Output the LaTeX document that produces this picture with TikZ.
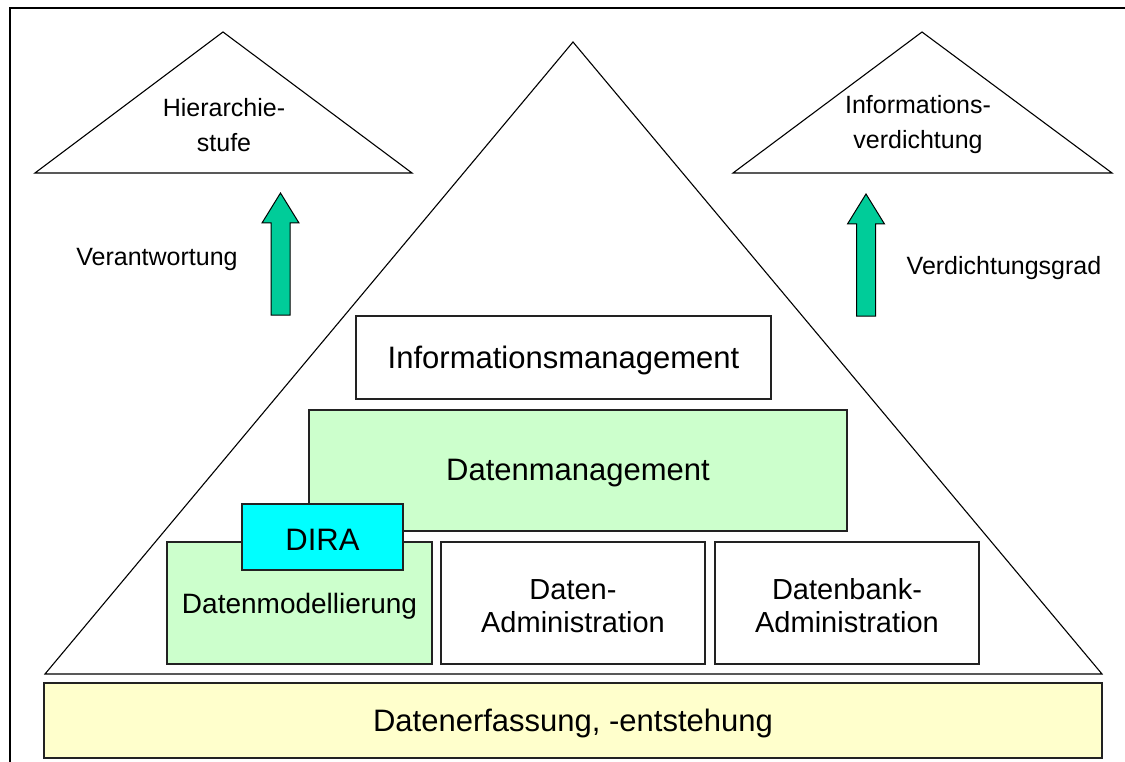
\documentclass[tikz,border=0pt]{standalone}
\usepackage{fontspec}
\setmainfont{Liberation Sans}
\usetikzlibrary{calc}
\definecolor{paleGreen}{HTML}{CCFFCC}
\definecolor{paleYellow}{HTML}{FFFFCC}
\definecolor{dirCyan}{HTML}{00FFFF}
\definecolor{arrowGreen}{HTML}{00CC99}
\definecolor{edgeGray}{HTML}{222222}
\begin{document}
\begin{tikzpicture}[x=1pt,y=-1pt,
  box/.style={draw=edgeGray,line width=1.3pt,rectangle,inner sep=0pt},
  boxtext/.style 2 args={label={[align=center,yshift=-3pt,#1]center:#2}},
  bigtext/.style={font=\fontsize{31}{34}\selectfont},
  midtext/.style={font=\fontsize{29}{33}\selectfont},
  modtext/.style={font=\fontsize{28}{33}\selectfont},
  smalltext/.style={font=\fontsize{25}{35}\selectfont,align=center},
  outline/.style={draw=black,line width=1.1pt,line join=miter},
  uparrow/.style={fill=arrowGreen,draw=black,line width=1pt,line join=miter}]
\useasboundingbox (0,0) rectangle (1125,762);

% outer frame (top and left edges)
\draw[line width=1.8pt] (10,762) -- (10,8) -- (1125,8);

% small triangles with their captions
\draw[outline] (35,173) -- (223,32) -- (412,173) -- cycle;
\node[smalltext] (hier) at (224,125) {Hierarchie-\\stufe};
\draw[outline] (733,173) -- (922,32) -- (1112,173) -- cycle;
\node[smalltext] (verd) at (918,125) {Informations-\\verdichtung};

% upward arrows with their labels
\coordinate (arrL) at (280.5,315);
\coordinate (arrR) at (866,316);
\draw[uparrow] ($(arrL)+(-9.5,0)$) -- ($(arrL)+(-9.5,-92)$) -- ($(arrL)+(-18.5,-92)$)
  -- ($(arrL)+(0,-122)$) -- ($(arrL)+(18.5,-92)$) -- ($(arrL)+(9.5,-92)$)
  -- ($(arrL)+(9.5,0)$) -- cycle;
\draw[uparrow] ($(arrR)+(-9.5,0)$) -- ($(arrR)+(-9.5,-92)$) -- ($(arrR)+(-18.5,-92)$)
  -- ($(arrR)+(0,-122)$) -- ($(arrR)+(18.5,-92)$) -- ($(arrR)+(9.5,-92)$)
  -- ($(arrR)+(9.5,0)$) -- cycle;
\node[smalltext] (verant) at (157,259) {Verantwortung};
\node[smalltext] (vgrad) at (1004,268) {Verdichtungsgrad};

% main pyramid
\draw[outline] (45,674) -- (573,42) -- (1102,674) -- cycle;

% layers inside the pyramid
\node[box,fill=white,minimum width=415,minimum height=83,
  boxtext={bigtext}{Informationsmanagement}] (infom) at (563.5,357.5) {};
\node[box,fill=paleGreen,minimum width=538,minimum height=121,
  boxtext={bigtext}{Datenmanagement}] (datm) at (578,470.5) {};
\node[box,fill=paleGreen,minimum width=265,minimum height=122,
  boxtext={modtext}{Datenmodellierung}] (dmod) at (299.5,603) {};
\node[box,fill=dirCyan,minimum width=161,minimum height=66,
  boxtext={bigtext}{DIRA}] (dira) at (322.5,537) {};
\node[box,fill=white,minimum width=264,minimum height=122,
  boxtext={midtext}{Daten-\\Administration}] (dadm) at (573,603) {};
\node[box,fill=white,minimum width=264,minimum height=122,
  boxtext={midtext}{Datenbank-\\Administration}] (dbadm) at (847,603) {};

% base layer
\node[box,fill=paleYellow,minimum width=1058,minimum height=75,
  boxtext={bigtext}{Datenerfassung, -entstehung}] (erf) at (573,720.5) {};
\end{tikzpicture}
\end{document}
